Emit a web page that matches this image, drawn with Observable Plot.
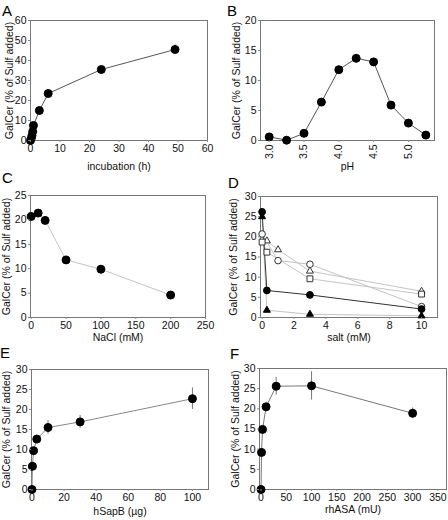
<!DOCTYPE html>
<html><head><meta charset="utf-8">
<script src="https://cdn.jsdelivr.net/npm/d3@7"></script>
<script src="https://cdn.jsdelivr.net/npm/@observablehq/plot@0.6"></script>
<style>
body{margin:0;background:#fff;font-family:"Liberation Sans",Arial,sans-serif;}
#fig{position:relative;width:448px;height:520px;overflow:hidden;background:#fff;}
.panel{position:absolute;}
.letter{position:absolute;font-size:15px;line-height:1;color:#000;font-family:"Liberation Sans",Arial,sans-serif;}
</style></head><body><div id="fig"></div>
<script>
// ---------- data ----------
const yAxisLabel = "GalCer (% of Sulf added)";

// A: time course
const incubationH = [0, 0.25, 0.5, 0.75, 1, 3, 6, 24, 49];
const galcerA = [0, 1, 2.5, 4.5, 7.5, 15, 23.5, 35.5, 45.5];
const errA = [0, 0, 0, 0, 0, 0, 0, 0, 2.3];

// B: pH
const pH = [3.0, 3.25, 3.5, 3.75, 4.0, 4.25, 4.5, 4.75, 5.0, 5.25];
const galcerB = [0.6, 0.05, 1.2, 6.4, 11.8, 13.7, 13.1, 5.9, 2.9, 0.9];
const pHTicks = [3.0, 3.5, 4.0, 4.5, 5.0];

// C: NaCl
const naclMM = [0, 10, 20, 50, 100, 200];
const galcerC = [20.7, 21.4, 19.9, 11.8, 9.9, 4.6];

// D: salts
const saltFilledCircleX = [0, 0.3, 3, 10];
const saltFilledCircleY = [26.2, 6.7, 5.6, 2.1];
const saltFilledTriX = [0, 0.3, 3, 10];
const saltFilledTriY = [25, 1.8, 0.8, 0.4];
const saltOpenCircleX = [0, 1, 3, 10];
const saltOpenCircleY = [20.7, 14.1, 13.2, 2.7];
const saltOpenTriX = [0.3, 1, 3, 10];
const saltOpenTriY = [19, 16.8, 11.5, 6.5];
const saltOpenSquareX = [0, 0.3, 3, 10];
const saltOpenSquareY = [18.7, 16.2, 9.6, 5.8];

// E: hSapB
const hSapB = [0, 0.3, 1, 3, 10, 30, 100];
const galcerE = [0, 5.8, 9.7, 12.6, 15.5, 16.9, 22.7];
const errE = [0, 0, 0, 1, 1.7, 1.6, 2.7];

// F: rhASA
const rhASA = [0, 1, 3, 10, 30, 100, 300];
const galcerF = [0, 9.2, 14.9, 20.5, 25.6, 25.7, 18.9];
const errF = [0, 0, 0, 0.8, 2.2, 3.5, 1.3];

// ---------- drawing ----------
const FONT = "'Liberation Sans', Arial, Helvetica, sans-serif";
const fig = document.getElementById("fig");

function rowsOf(xs, ys, es) {
  return xs.map((x, i) => ({x, y: ys[i], e: es ? es[i] : 0}));
}

function makePanel(cfg) {
  const marks = [Plot.frame({stroke: "#777", strokeWidth: 1})];
  const sers = cfg.series.map(s => ({...s, rows: rowsOf(s.x, s.y, s.err)}));
  for (const s of sers) {
    marks.push(Plot.line(s.rows, {x: "x", y: "y", stroke: s.line, strokeWidth: 1}));
  }
  for (const s of sers) {
    if (s.err) marks.push(Plot.ruleX(s.rows.filter(d => d.e > 0), {
      x: "x", y1: d => d.y - d.e, y2: d => d.y + d.e, stroke: "#777", strokeWidth: 1}));
  }
  for (const s of sers) {
    marks.push(Plot.dot(s.rows, {x: "x", y: "y", r: s.r ?? 4, symbol: s.symbol ?? "circle",
      fill: s.fill ?? "#000", stroke: s.stroke ?? "#000", strokeWidth: s.sw ?? 1}));
  }
  marks.push(Plot.axisX({ticks: cfg.xTicks, tickSize: 2, tickPadding: 2, stroke: "#888",
    tickFormat: cfg.xFormat, tickRotate: cfg.rot ?? 0,
    label: cfg.xLabel, labelAnchor: "center", labelArrow: "none", labelOffset: cfg.xlo}));
  marks.push(Plot.axisY({ticks: cfg.yTicks, tickSize: 2, tickPadding: 2, stroke: "#888",
    label: yAxisLabel, labelAnchor: "center", labelArrow: "none", labelOffset: cfg.ylo}));
  const svg = Plot.plot({
    width: 224, height: 175,
    marginLeft: cfg.m[0], marginRight: cfg.m[1], marginTop: cfg.m[2], marginBottom: cfg.m[3],
    x: {domain: cfg.xDomain}, y: {domain: cfg.yDomain},
    style: {fontFamily: FONT, fontSize: "10.5px", color: "#111", background: "transparent", overflow: "visible"},
    marks
  });
  const div = document.createElement("div");
  div.className = "panel";
  div.style.left = cfg.left + "px";
  div.style.top = cfg.top + "px";
  div.appendChild(svg);
  fig.appendChild(div);
  const lt = document.createElement("div");
  lt.className = "letter";
  lt.textContent = cfg.letter;
  lt.style.left = cfg.lx + "px";
  lt.style.top = cfg.ly + "px";
  fig.appendChild(lt);
}

const dark = "#555", light = "#c4c4c4";

makePanel({letter: "A", lx: 2, ly: 3, left: 0, top: 0, m: [30, 17, 20, 35],
  xDomain: [0, 60], yDomain: [0, 60], xTicks: d3.range(0, 61, 10), yTicks: d3.range(0, 61, 10),
  xLabel: "incubation (h)", xlo: 29, ylo: 25,
  series: [{x: incubationH, y: galcerA, err: errA, line: dark}]});

makePanel({letter: "B", lx: 227, ly: 3, left: 224, top: 0, m: [36, 14, 20, 35],
  xDomain: [2.875, 5.375], yDomain: [0, 20], xTicks: pHTicks, yTicks: d3.range(0, 21, 5),
  xFormat: d3.format(".1f"), rot: -90,
  xLabel: "pH", xlo: 29, ylo: 28,
  series: [{x: pH, y: galcerB, line: dark}]});

makePanel({letter: "C", lx: 2, ly: 170, left: 0, top: 173, m: [30, 19, 22, 31],
  xDomain: [-1, 250], yDomain: [0, 25], xTicks: d3.range(0, 251, 50), yTicks: d3.range(0, 26, 5),
  xLabel: "NaCl (mM)", xlo: 23, ylo: 28,
  series: [{x: naclMM, y: galcerC, line: light}]});

makePanel({letter: "D", lx: 228, ly: 175, left: 224, top: 173, m: [36, 11, 23, 31],
  xDomain: [-0.1, 11], yDomain: [0, 30], xTicks: d3.range(0, 11, 2), yTicks: d3.range(0, 31, 5),
  xLabel: "salt (mM)", xlo: 23, ylo: 31,
  series: [
    {x: saltOpenCircleX, y: saltOpenCircleY, line: light, fill: "#fff", stroke: "#333", r: 3.3},
    {x: saltOpenTriX, y: saltOpenTriY, line: light, fill: "#fff", stroke: "#333", r: 2.6, symbol: "triangle"},
    {x: saltOpenSquareX, y: saltOpenSquareY, line: light, fill: "#fff", stroke: "#333", r: 3.3, symbol: "square"},
    {x: saltFilledTriX, y: saltFilledTriY, line: light, r: 2.6, symbol: "triangle"},
    {x: saltFilledCircleX, y: saltFilledCircleY, line: "#333", r: 3.4}
  ]});

makePanel({letter: "E", lx: 0, ly: 345, left: 0, top: 345, m: [31, 16, 24, 31],
  xDomain: [-0.3, 110], yDomain: [0, 30], xTicks: d3.range(0, 101, 20), yTicks: d3.range(0, 31, 5),
  xLabel: "hSapB (µg)", xlo: 25, ylo: 29,
  series: [{x: hSapB, y: galcerE, err: errE, line: "#888"}]});

makePanel({letter: "F", lx: 230, ly: 346, left: 224, top: 345, m: [35, 2, 23, 31],
  xDomain: [-3, 367], yDomain: [0, 30], xTicks: d3.range(0, 351, 50), yTicks: d3.range(0, 31, 5),
  xLabel: "rhASA (mU)", xlo: 23, ylo: 28,
  series: [{x: rhASA, y: galcerF, err: errF, line: "#777"}]});
</script>
</body></html>
